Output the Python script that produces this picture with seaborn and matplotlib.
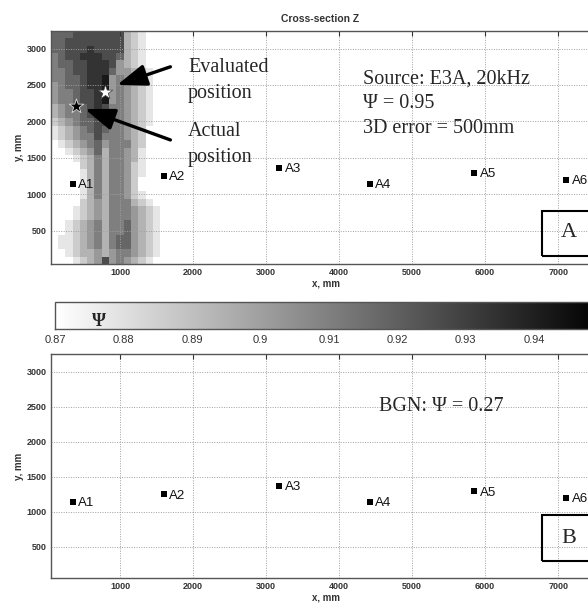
import numpy as np
import matplotlib
matplotlib.use("Agg")
import matplotlib.pyplot as plt
from matplotlib.patches import Rectangle
import pandas as pd
import seaborn as sns

# sensor positions, mm
sensor_names = ["A1", "A2", "A3", "A4", "A5", "A6"]
sensor_x = [350, 1600, 3180, 4420, 5850, 7110]
sensor_y = [1140, 1250, 1365, 1140, 1290, 1195]

actual_pos = (400, 2210)
evaluated_pos = (800, 2405)

# psi map, 100 mm cells, rows from top (y=3190) down to y=90
# digit d -> psi = 0.87 + 0.008*d ; "." = no value
psi_x = np.arange(100, 1700, 100)
psi_y = np.arange(3190, 0, -100)
psi_rows = [
    "66677777773210..",
    "66777777773210..",
    "66777877773210..",
    "56778887763210..",
    "56677888743210..",
    "55677888644321..",
    "556678894543210.",
    "456678894543210.",
    "455677894543210.",
    "455677894543210.",
    "345667875543210.",
    "34556787554321..",
    "23456677554321..",
    "12345676554320..",
    "12345575554320..",
    "01234564555320..",
    ".0123463554310..",
    "..012353554310..",
    "...0235355421...",
    "....135355421...",
    "....135355420...",
    "....135355420...",
    "...01353554210..",
    "...023435553210.",
    "..0123435554321.",
    "..0123435554321.",
    ".01234535564321.",
    ".012345355643210",
    "0112345356643210",
    "011234535664321.",
    "001233434554321.",
    ".0012347454321..",
]
psi_min, psi_max = 0.87, 0.95
cbar_ticks = [0.87, 0.88, 0.89, 0.90, 0.91, 0.92, 0.93, 0.94]

psi = np.array([[np.nan if ch == "." else psi_min + 0.008 * int(ch) for ch in row]
                for row in psi_rows])
x_edges = np.append(psi_x - 50, psi_x[-1] + 50)
y_edges = np.append(psi_y + 50, psi_y[-1] - 50)

sensors = pd.DataFrame({"name": sensor_names, "x": sensor_x, "y": sensor_y})

sns.set_style("white")
plt.rcParams["font.family"] = ["Liberation Sans", "DejaVu Sans"]

W, H = 588, 604
fig = plt.figure(figsize=(W / 100, H / 100), dpi=100)
ax_top = fig.add_axes([51 / W, (H - 264) / H, 551 / W, 233 / H])
ax_cb = fig.add_axes([55.5 / W, (H - 329) / H, 547 / W, 27 / H])
ax_bot = fig.add_axes([51 / W, (H - 578) / H, 551 / W, 224 / H])

serif = ["Liberation Serif", "DejaVu Serif"]
big = 14.5


def style_axes(ax, ylim):
    ax.set_xlim(55, 7600)
    ax.set_ylim(*ylim)
    ax.set_xticks([1000, 2000, 3000, 4000, 5000, 6000, 7000])
    ax.set_yticks([500, 1000, 1500, 2000, 2500, 3000])
    ax.tick_params(direction="in", length=3.5, width=0.8, top=True, right=True,
                   labelsize=6.5, pad=3, colors="#333333")
    for lab in ax.get_xticklabels() + ax.get_yticklabels():
        lab.set_fontweight("bold")
    ax.grid(True, linestyle=(0, (1, 1.5)), color="#a0a0a0", linewidth=0.7)
    ax.set_axisbelow("line")
    for sp in ax.spines.values():
        sp.set_color("#555555")
        sp.set_linewidth(1.0)

    sns.scatterplot(data=sensors, x="x", y="y", ax=ax, marker="s", s=20,
                    color="black", edgecolor="black", linewidth=0, zorder=4,
                    legend=False)
    for _, r in sensors.iterrows():
        ax.annotate(r["name"], (r["x"], r["y"]), xytext=(4, -1),
                    textcoords="offset points", fontsize=9.5, va="center",
                    ha="left", color="#111111")
    ax.set_xlabel("x, mm", fontsize=7, fontweight="bold", labelpad=1,
                  color="#333333")
    ax.set_ylabel("y, mm", fontsize=7, fontweight="bold", labelpad=2,
                  color="#333333")


# ---- top panel: map ----
mesh = ax_top.pcolormesh(x_edges, y_edges, psi, cmap="gray_r",
                         vmin=psi_min, vmax=psi_max, zorder=1)
style_axes(ax_top, (40, 3242))

ax_top.scatter(*evaluated_pos, marker="*", s=120, color="white",
               edgecolor="#444444", linewidth=0.5, zorder=5)
ax_top.scatter(*actual_pos, marker="*", s=120, color="black",
               edgecolor="#dddddd", linewidth=0.6, zorder=5)

arrow_kw = dict(arrowstyle="-|>,head_length=0.6,head_width=0.22",
                color="black", lw=2.4, mutation_scale=30, shrinkA=0, shrinkB=0)
ax_top.annotate("", xy=(960, 2500), xytext=(1690, 2750), arrowprops=arrow_kw,
                zorder=6)
ax_top.annotate("", xy=(520, 2170), xytext=(1690, 1745), arrowprops=arrow_kw,
                zorder=6)

ax_top.text(1931, 2562, "Evaluated\nposition", fontsize=big, family=serif,
            va="center", linespacing=1.45)
ax_top.text(1931, 1683, "Actual\nposition", fontsize=big, family=serif,
            va="center", linespacing=1.45)
ax_top.text(4329, 2239, "Source: E3A, 20kHz\n\u03a8 = 0.95\n3D error = 500mm",
            fontsize=big, family=serif, va="center", linespacing=1.42)

ax_top.add_patch(Rectangle((6780, 150), 1500, 620, fill=False, lw=1.5,
                           edgecolor="black", zorder=6))
ax_top.text(7150, 467, "A", fontsize=16, family=serif, ha="center",
            va="center", zorder=7)

fig.text(320 / W, 1 - 19 / H, "Cross-section Z", fontsize=7.5,
         fontweight="bold", ha="center", va="center", color="#333333")

# ---- colorbar ----
cb = fig.colorbar(mesh, cax=ax_cb, orientation="horizontal")
cb.set_ticks(cbar_ticks)
cb.set_ticklabels([f"{t:g}" for t in cbar_ticks])
ax_cb.tick_params(which="both", direction="in", top=True, bottom=True,
                  length=3.5, width=0.8, labelsize=8, pad=4,
                  colors="#333333")
cb.outline.set_edgecolor("#555555")
cb.outline.set_linewidth(1.0)
ax_cb.text(0.8764, 0.28, "\u03a8", fontsize=13, family=serif,
           fontweight="bold", ha="center", va="center",
           transform=ax_cb.transData)

# ---- bottom panel: background noise ----
style_axes(ax_bot, (50, 3255))
ax_bot.text(4545, 2499, "BGN: \u03a8 = 0.27", fontsize=big, family=serif,
            va="center")
ax_bot.add_patch(Rectangle((6780, 296), 1500, 660, fill=False, lw=1.5,
                           edgecolor="black", zorder=6))
ax_bot.text(7140, 611, "B", fontsize=16, family=serif, ha="center",
            va="center", zorder=7)

fig.savefig("out.png", dpi=100)
